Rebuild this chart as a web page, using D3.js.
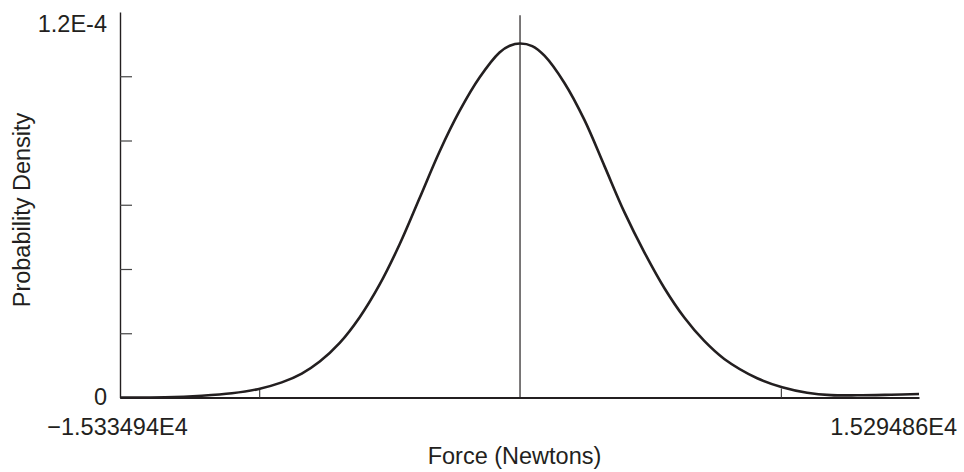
<!DOCTYPE html>
<meta charset="utf-8">
<style>
  body { margin: 0; background: #fff; }
  text { font-family: "Liberation Sans", Arial, sans-serif; fill: #231f20; }
</style>

<!-- Load d3.js -->
<script src="https://d3js.org/d3.v7.min.js"></script>

<!-- Create a div where the graph will take place -->
<div id="my_dataviz"></div>

<script>

// data (force in N, density per N)
var forceMin = -15334.94,
    forceMax = 15294.86;
var force = [-15335, -13612, -12195, -11047, -10051, -9133, -8367, -7678, -6912, -6146,
             -5380, -4615, -3849, -3083, -2317, -1552, -786, -393, 0, 468, 937, 1703,
             2468, 3234, 4000, 4766, 5531, 6297, 7063, 7829, 9092, 10049,
             11006, 11925, 12921, 14223, 15295];
var density = [0.0, 0.08, 0.56, 1.31, 2.6, 4.7, 7.46, 11.2, 17.0, 25.0,
               35.2, 47.7, 62.1, 76.6, 89.2, 99.6, 107.4, 109.5, 110.2, 109.4, 106.4, 97.9,
               86.4, 72.1, 57.7, 45.2, 34.1, 24.9, 17.6, 12.0, 6.0, 3.2,
               1.5, 0.75, 0.68, 0.87, 1.09].map(function(d) { return d * 1e-6; });
var yMax = 1.2e-4;
var yTicks = [2e-5, 4e-5, 6e-5, 8e-5, 1e-4];
var xTicks = [-1e4, 1e4];
var meanLine = 0;
var xEndLabels = ["\u22121.533494E4", "1.529486E4"];
var yEndLabels = ["0", "1.2E-4"];

var data = force.map(function(f, i) { return {f: f, d: density[i]}; });

// set the dimensions and margins of the graph
var margin = {top: 12, right: 45, bottom: 74.5, left: 120},
    width = 964 - margin.left - margin.right,
    height = 472 - margin.top - margin.bottom;

var svg = d3.select("#my_dataviz")
  .append("svg")
    .attr("width", 964)
    .attr("height", 472)
  .append("g")
    .attr("transform", "translate(" + margin.left + "," + margin.top + ")");

var x = d3.scaleLinear().domain([forceMin, forceMax]).range([0, width]);
var y = d3.scaleLinear().domain([0, yMax]).range([height, 0]);

// x axis: ticks pointing up, no labels
var gx = svg.append("g")
    .attr("transform", "translate(0," + height + ")")
    .call(d3.axisBottom(x).tickValues(xTicks).tickFormat("").tickSize(-9).tickSizeOuter(0));
gx.select(".domain").attr("stroke", "#231f20").attr("stroke-width", 2);
gx.selectAll(".tick line").attr("stroke", "#444").attr("stroke-width", 1.2);

// y axis: ticks pointing right, no labels
var gy = svg.append("g")
    .call(d3.axisLeft(y).tickValues(yTicks).tickFormat("").tickSize(-12).tickSizeOuter(0));
gy.select(".domain").attr("stroke", "#231f20").attr("stroke-width", 1.4);
gy.selectAll(".tick line").attr("stroke", "#444").attr("stroke-width", 1.2);

// vertical line at the mean
svg.append("line")
    .attr("x1", x(meanLine)).attr("x2", x(meanLine))
    .attr("y1", y(1.19e-4)).attr("y2", y(0))
    .attr("stroke", "#231f20")
    .attr("stroke-width", 1.2);

// density curve
svg.append("path")
    .datum(data)
    .attr("fill", "none")
    .attr("stroke", "#231f20")
    .attr("stroke-width", 2.6)
    .attr("d", d3.line()
      .curve(d3.curveCatmullRom.alpha(0.5))
      .x(function(d) { return x(d.f); })
      .y(function(d) { return y(d.d); })
    );

// end labels
svg.append("text")
    .attr("x", x(forceMin) - 2.5)
    .attr("y", height + 37.5)
    .attr("text-anchor", "middle")
    .style("font-size", "23.5px")
    .text(xEndLabels[0]);
svg.append("text")
    .attr("x", x(forceMax) + 38)
    .attr("y", height + 37.5)
    .attr("text-anchor", "end")
    .style("font-size", "23.5px")
    .text(xEndLabels[1]);
svg.append("text")
    .attr("x", -13)
    .attr("y", y(0) + 7.5)
    .attr("text-anchor", "end")
    .style("font-size", "23.5px")
    .text(yEndLabels[0]);
svg.append("text")
    .attr("x", -13)
    .attr("y", y(yMax) + 20)
    .attr("text-anchor", "end")
    .style("font-size", "23.5px")
    .text(yEndLabels[1]);

// axis titles
svg.append("text")
    .attr("x", 394.5)
    .attr("y", height + 66)
    .attr("text-anchor", "middle")
    .style("font-size", "23.5px")
    .text("Force (Newtons)");
svg.append("text")
    .attr("transform", "translate(-90," + 198 + ") rotate(-90)")
    .attr("text-anchor", "middle")
    .style("font-size", "23.5px")
    .text("Probability Density");

</script>
